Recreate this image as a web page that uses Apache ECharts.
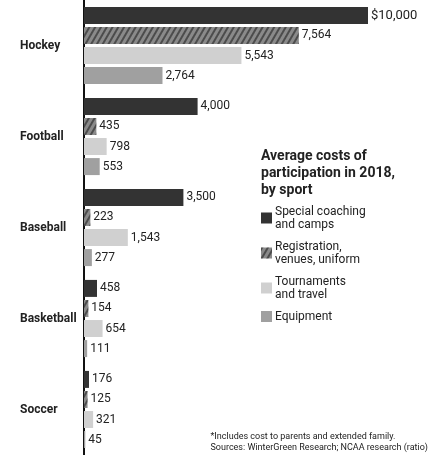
<!DOCTYPE html>
<html>
<head>
<meta charset="utf-8">
<title>Average costs of participation</title>
<script src="https://cdn.jsdelivr.net/npm/echarts@6/dist/echarts.min.js"></script>
<style>
  html, body { margin: 0; padding: 0; background: #fff; }
  #chart { width: 430px; height: 455px; }
</style>
</head>
<body>
<div id="chart"></div>
<script>
// sports, top to bottom
var sports = ['Hockey', 'Football', 'Baseball', 'Basketball', 'Soccer'];
var seriesNames = ['Special coaching and camps', 'Registration, venues, uniform', 'Tournaments and travel', 'Equipment'];
var coaching = [10000, 4000, 3500, 458, 176];
var registration = [7564, 435, 223, 154, 125];
var tournaments = [5543, 798, 1543, 654, 321];
var equipment = [2764, 553, 277, 111, 45];

var legendText = {
    'Special coaching and camps': 'Special coaching\nand camps',
    'Registration, venues, uniform': 'Registration,\nvenues, uniform',
    'Tournaments and travel': 'Tournaments\nand travel',
    'Equipment': 'Equipment'
};
var colors = ['#333333', '#8a8a8a', '#d0d0d0', '#a0a0a0'];

function fmt(v) {
    return v.toLocaleString('en-US');
}

var chart = echarts.init(document.getElementById('chart'));

function makeSeries(i, data) {
    var s = {
        name: seriesNames[i],
        type: 'bar',
        data: data,
        barWidth: 17,
        barGap: '18%',
        itemStyle: { color: colors[i] },
        label: {
            show: true,
            position: 'right',
            distance: 3,
            fontFamily: 'Roboto',
            fontSize: 12,
            color: '#222',
            formatter: function (p) {
                return (p.value === 10000 ? '{big|$' + fmt(p.value) + '}' : fmt(p.value));
            },
            rich: { big: { fontSize: 13, color: '#222', fontFamily: 'Roboto' } }
        }
    };
    // hatched look for registration bars
    if (i === 1) {
        s.itemStyle.decal = {
            symbol: 'rect',
            color: 'rgba(0,0,0,0.45)',
            dashArrayX: [1, 0],
            dashArrayY: [2, 3],
            rotation: -Math.PI / 3
        };
    }
    return s;
}

var option = {
    animation: false,
    textStyle: { fontFamily: 'Roboto' },
    grid: { left: 84, top: 0, width: 284, height: 455 },
    title: {
        text: 'Average costs of\nparticipation in 2018,\nby sport',
        left: 256,
        top: 143,
        textStyle: { fontSize: 14, fontWeight: 'bold', color: '#222', lineHeight: 17, fontFamily: 'Roboto' }
    },
    legend: {
        orient: 'vertical',
        left: 256,
        top: 200,
        itemWidth: 11,
        itemHeight: 11,
        itemGap: 9,
        icon: 'rect',
        formatter: function (name) { return legendText[name]; },
        textStyle: { fontSize: 12, color: '#222', lineHeight: 13, padding: [0, 0, 0, -2] },
        align: 'left'
    },
    xAxis: {
        type: 'value',
        min: 0,
        max: 10000,
        show: false
    },
    yAxis: {
        type: 'category',
        data: sports,
        inverse: true,
        axisLine: { show: true, lineStyle: { color: '#111', width: 2 } },
        axisTick: { show: false },
        axisLabel: {
            align: 'left',
            margin: 64,
            fontSize: 12,
            fontWeight: 'bold',
            color: '#222'
        }
    },
    graphic: [
        {
            type: 'text',
            right: 2,
            top: 431,
            style: {
                text: '*Includes cost to parents and extended family.\nSources: WinterGreen Research; NCAA research (ratio)',
                align: 'right',
                fontSize: 9,
                lineHeight: 11,
                fontFamily: 'Roboto',
                fill: '#222'
            }
        }
    ],
    series: [
        makeSeries(0, coaching),
        makeSeries(1, registration),
        makeSeries(2, tournaments),
        makeSeries(3, equipment)
    ]
};

chart.setOption(option);
</script>
</body>
</html>
